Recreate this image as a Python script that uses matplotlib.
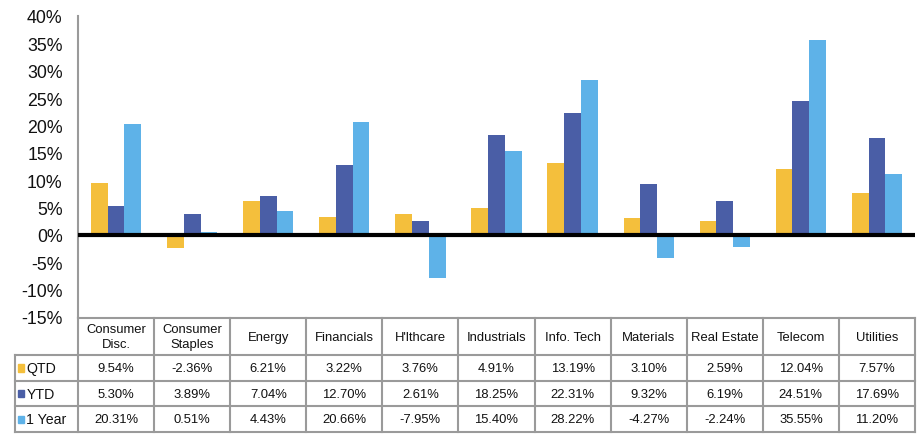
import matplotlib
matplotlib.use("Agg")
import matplotlib.pyplot as plt
import numpy as np
from matplotlib.patches import Rectangle

plt.rcParams['font.family'] = ['Liberation Sans', 'DejaVu Sans']

categories = ["Consumer\nDisc.", "Consumer\nStaples", "Energy", "Financials", "H'lthcare",
              "Industrials", "Info. Tech", "Materials", "Real Estate", "Telecom", "Utilities"]
series_names = ["QTD", "YTD", "1 Year"]
qtd = [9.54, -2.36, 6.21, 3.22, 3.76, 4.91, 13.19, 3.10, 2.59, 12.04, 7.57]
ytd = [5.30, 3.89, 7.04, 12.70, 2.61, 18.25, 22.31, 9.32, 6.19, 24.51, 17.69]
one_year = [20.31, 0.51, 4.43, 20.66, -7.95, 15.40, 28.22, -4.27, -2.24, 35.55, 11.20]
y_ticks = [-15, -10, -5, 0, 5, 10, 15, 20, 25, 30, 35, 40]

colors = ["#F4BF3C", "#4A5EA6", "#5EB2E8"]
grid_col = "#9A9A9A"

W, H = 923, 435
fig = plt.figure(figsize=(W / 100, H / 100), dpi=100)

# main chart area
x_l, x_r, y_t, y_b = 78, 915, 17, 318
ax = fig.add_axes([x_l / W, 1 - y_b / H, (x_r - x_l) / W, (y_b - y_t) / H])
n = len(categories)
x = np.arange(n)
bw = 0.22
for k, vals in enumerate([qtd, ytd, one_year]):
    ax.bar(x + (k - 1) * bw, vals, width=bw, color=colors[k], zorder=2)
ax.axhline(0, color="black", lw=3.0, zorder=3)
ax.set_xlim(-0.5, n - 0.5)
ax.set_ylim(-15, 40)
ax.set_yticks(y_ticks)
ax.set_yticklabels([f"{t}%" for t in y_ticks], fontsize=12.8, color="#111111")
ax.tick_params(axis="y", length=0, pad=11)
ax.set_xticks([])
for s in ["top", "right", "bottom"]:
    ax.spines[s].set_visible(False)
ax.spines["left"].set_color(grid_col)
ax.spines["left"].set_linewidth(1.5)

# data table below the chart
t_l, t_r, t_t, t_b = 15, 915, 319, 433
tax = fig.add_axes([t_l / W, 1 - t_b / H, (t_r - t_l) / W, (t_b - t_t) / H])
lab_w = (x_l - t_l) / ((x_r - x_l) / n)
tax.set_xlim(-0.5 - lab_w, n - 0.5)
head_h = 1.45
tax.set_ylim(3 + head_h, 0)
tax.axis("off")
lw = 1.5
# header row: only over category columns
tax.plot([-0.5, n - 0.5], [0, 0], color=grid_col, lw=lw, clip_on=False)
for i, c in enumerate(categories):
    tax.text(i, head_h / 2, c, ha="center", va="center", fontsize=9.4,
             linespacing=1.3, color="#111111")
# horizontal lines
for yy in [head_h, head_h + 1, head_h + 2, head_h + 3]:
    tax.plot([-0.5 - lab_w, n - 0.5], [yy, yy], color=grid_col, lw=lw, clip_on=False)
# vertical lines
tax.plot([-0.5 - lab_w] * 2, [head_h, head_h + 3], color=grid_col, lw=lw, clip_on=False)
for i in range(n + 1):
    tax.plot([i - 0.5] * 2, [0, head_h + 3], color=grid_col, lw=lw, clip_on=False)
# rows
for r, (name, vals) in enumerate(zip(series_names, [qtd, ytd, one_year])):
    yc = head_h + r + 0.5
    tax.add_patch(Rectangle((-0.5 - lab_w + 0.035, yc - 0.14), 0.085, 0.28,
                            color=colors[r], clip_on=False))
    tax.text(-0.5 - lab_w + 0.15, yc, name, ha="left", va="center", fontsize=10.2,
             color="#111111")
    for i, v in enumerate(vals):
        tax.text(i, yc, f"{v:.2f}%", ha="center", va="center", fontsize=9.4,
                 color="#111111")

fig.savefig("out.png", dpi=100)
